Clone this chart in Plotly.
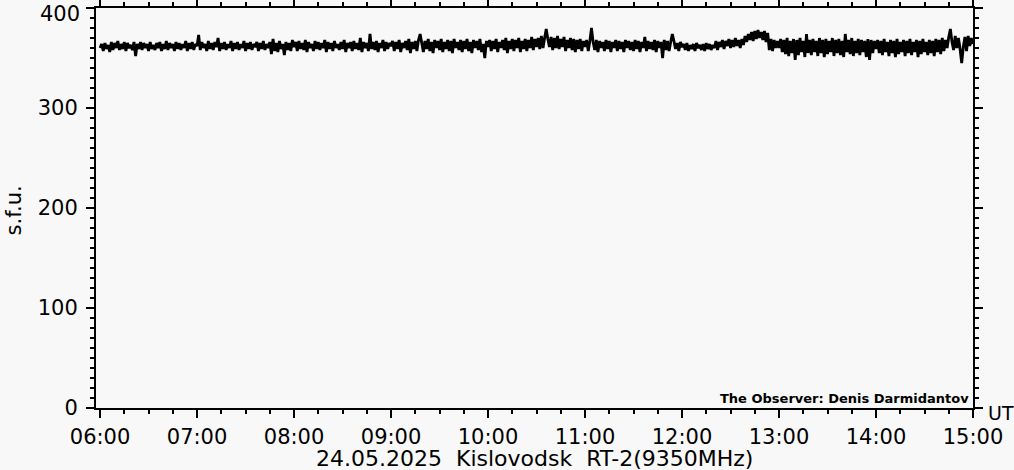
import pandas as pd
import plotly.graph_objects as go

# Flux readings (s.f.u.), one per minute, 06:00 .. 15:00 UT, 24.05.2025
h06 = [360,364,357,365,359,363,356,366,358,365,360,367,358,364,359,366,357,365,360,363,358,366,352,364,359,366,358,365,360,364,
       357,366,359,363,358,365,360,366,357,364,359,367,358,365,360,364,357,366,359,365,358,364,360,367,357,365,359,366,358,364]
h07 = [362,373,358,366,360,364,357,367,359,365,358,366,361,370,357,365,359,366,358,364,360,367,357,365,359,366,358,364,360,367,
       357,365,359,366,358,364,361,366,357,365,359,367,358,364,360,366,354,369,357,365,356,367,359,364,353,366,358,365,357,368]
h08 = [361,366,357,367,359,365,358,368,356,366,360,364,357,367,359,366,358,365,360,368,356,366,359,365,357,367,360,364,358,366,
       359,368,356,365,360,366,357,367,359,365,358,370,356,366,360,365,357,374,359,366,358,367,356,365,360,368,357,366,359,365]
h09 = [362,367,357,366,359,368,356,365,360,367,358,369,355,366,359,367,357,368,374,365,356,367,359,369,357,366,355,368,360,367,
       358,369,356,366,359,368,357,367,355,369,360,366,358,368,356,367,359,369,357,366,355,368,360,367,358,369,356,364,350,367]
h10 = [361,368,357,367,359,369,356,366,360,368,358,370,355,367,359,369,357,368,360,370,356,367,359,369,357,368,360,371,358,369,
       361,370,359,372,360,370,379,369,361,371,358,370,360,372,359,369,361,371,357,368,360,370,358,369,356,368,359,369,357,367]
h11 = [361,368,357,367,380,366,358,368,356,367,360,366,357,368,359,367,356,366,360,368,357,367,359,366,356,368,360,367,358,366,
       357,368,359,367,356,366,360,371,357,367,359,366,358,368,356,367,360,366,350,368,358,367,357,366,374,367,359,365,357,366]
h12 = [361,364,358,365,357,363,359,364,357,365,360,363,358,364,357,365,359,364,358,363,360,367,358,366,361,368,359,367,362,369,
       360,368,361,370,362,368,360,369,363,372,366,374,368,376,367,377,369,378,370,376,368,377,366,375,358,369,357,368,360,367]
h13 = [360,369,356,368,354,370,352,367,355,369,348,368,353,370,356,367,351,374,355,368,353,369,356,367,352,370,355,368,351,369,
       354,367,356,370,352,368,355,369,353,367,351,374,356,368,354,370,352,367,355,369,353,368,356,367,351,369,348,368,355,367]
h14 = [359,368,355,367,353,369,356,366,352,368,355,367,351,369,354,366,356,368,352,367,355,369,353,366,356,368,351,367,354,369,
       356,366,353,368,355,367,352,369,356,368,354,370,357,368,360,371,379,366,358,372,360,370,359,345,361,371,357,372,362,370]
h15 = [364]

flux = h06 + h07 + h08 + h09 + h10 + h11 + h12 + h13 + h14 + h15
start_time = "2025-05-24 06:00"
times = pd.date_range(start_time, periods=len(flux), freq="min")

y_ticks = [0, 100, 200, 300, 400]
y_labels = ["0", "100", "200", "300", "400"]
x_title = "24.05.2025  Kislovodsk  RT-2(9350MHz)"
observer = "The Observer: Denis Darmidantov"

FONT = "DejaVu Sans"
BG = "#f8f8f8"

fig = go.Figure()
fig.add_trace(go.Scatter(x=times, y=flux, mode="lines",
                         line=dict(color="black", width=2.8, simplify=False),
                         hoverinfo="skip"))

axis_common = dict(
    showline=True, linecolor="black", linewidth=2, mirror="allticks",
    ticks="outside", ticklen=8, tickwidth=2, tickcolor="black",
    showgrid=False, zeroline=False, automargin=False,
    ticklabeloverflow="allow",
    tickfont=dict(family=FONT, size=21, color="black"),
)

fig.update_xaxes(
    **axis_common,
    type="date",
    range=["2025-05-24 05:57:30", "2025-05-24 15:00:00"],
    tick0="2025-05-24 06:00", dtick=3600000, tickformat="%H:%M",
    ticklabelstandoff=1,
    minor=dict(ticks="outside", ticklen=4, tickwidth=2, tickcolor="black",
               dtick=900000, showgrid=False),
)
# the top label is nudged down inside the picture (as in the original), so it is drawn as an annotation
fig.update_yaxes(
    **axis_common,
    range=[0, 400], tickvals=y_ticks, ticktext=y_labels[:-1] + [""],
    ticklabelstandoff=4,
    minor=dict(ticks="outside", ticklen=4, tickwidth=2, tickcolor="black",
               dtick=10, showgrid=False),
)
fig.add_annotation(text=y_labels[-1], xref="paper", yref="paper", x=-0.0165, y=0.985,
                   xanchor="right", yanchor="middle", showarrow=False,
                   font=dict(family=FONT, size=21, color="black"))

fig.add_annotation(text=x_title, xref="paper", yref="paper", x=0.5, y=-0.126,
                   xanchor="center", yanchor="middle", showarrow=False,
                   font=dict(family=FONT, size=22, color="black"))
fig.add_annotation(text="s.f.u.", xref="paper", yref="paper", x=-0.093, y=0.495,
                   xanchor="center", yanchor="middle", textangle=-90, showarrow=False,
                   font=dict(family=FONT, size=21, color="black"))
fig.add_annotation(text="UT", xref="paper", yref="paper", x=1.015, y=-0.012,
                   xanchor="left", yanchor="middle", showarrow=False,
                   font=dict(family=FONT, size=19, color="black"))
fig.add_annotation(text=observer, xref="paper", yref="paper", x=0.9975, y=0.025,
                   xanchor="right", yanchor="middle", showarrow=False,
                   font=dict(family=FONT, size=13, color="black", weight="bold"))

fig.update_layout(
    width=1014, height=470,
    margin=dict(l=96, r=41, t=8, b=62, autoexpand=False),
    paper_bgcolor=BG, plot_bgcolor=BG,
    showlegend=False,
)

fig.write_html("out.html", config={"displayModeBar": False},
               post_script="document.body.style.margin='0';document.body.style.background='#f8f8f8';")
